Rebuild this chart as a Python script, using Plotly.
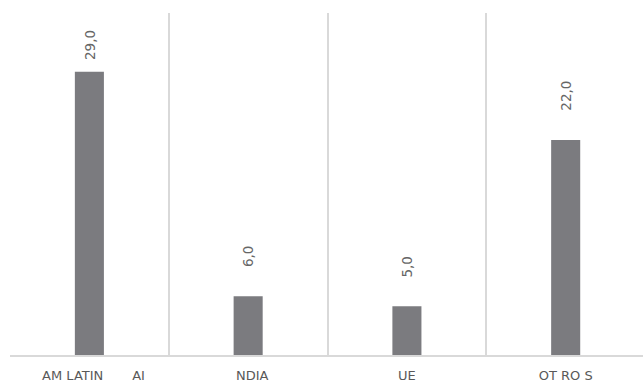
import plotly.graph_objects as go

NB = "\u00a0"
# Categories as printed on the axis, and the value of each bar
categories = [NB * 2 + "AM LATIN" + NB * 7 + "AI", NB * 2 + "NDIA", "UE", "OT RO S"]
values = [29.0, 6.0, 5.0, 22.0]
value_labels = ["29,0", "6,0", "5,0", "22,0"]

BAR_COLOR = "#7b7b7f"
TEXT_COLOR = "#595959"
GRID_COLOR = "#d9d9d9"
FONT = "DejaVu Sans, sans-serif"

fig = go.Figure(
    go.Bar(
        x=categories,
        y=values,
        marker=dict(color=BAR_COLOR, line=dict(width=0)),
        hoverinfo="skip",
    )
)

# Rotated value labels sitting above each bar
label_shift = [10, 27, 27, 27]
for cat, val, lab, sh in zip(categories, values, value_labels, label_shift):
    fig.add_annotation(
        x=cat, y=val, text=lab, textangle=-90,
        showarrow=False, yanchor="bottom", yshift=sh,
        font=dict(family=FONT, size=13.5, color="#666666"),
    )

fig.update_layout(
    width=643, height=383,
    margin=dict(l=10, r=0, t=13, b=26),
    paper_bgcolor="white", plot_bgcolor="white",
    bargap=0.817,
    showlegend=False,
    font=dict(family=FONT, size=13, color=TEXT_COLOR),
    xaxis=dict(
        type="category",
        range=[-0.5, 3.487],
        tickson="boundaries",
        showgrid=True, gridcolor=GRID_COLOR, gridwidth=1.5,
        showline=True, linecolor=GRID_COLOR, linewidth=1.5,
        ticks="", ticklabelstandoff=8,
        tickfont=dict(family=FONT, size=13, color=TEXT_COLOR),
        fixedrange=True,
    ),
    yaxis=dict(
        range=[0, 35],
        showgrid=False, zeroline=False, showline=False,
        showticklabels=False, ticks="",
        fixedrange=True,
    ),
)

fig.write_html("out.html")
